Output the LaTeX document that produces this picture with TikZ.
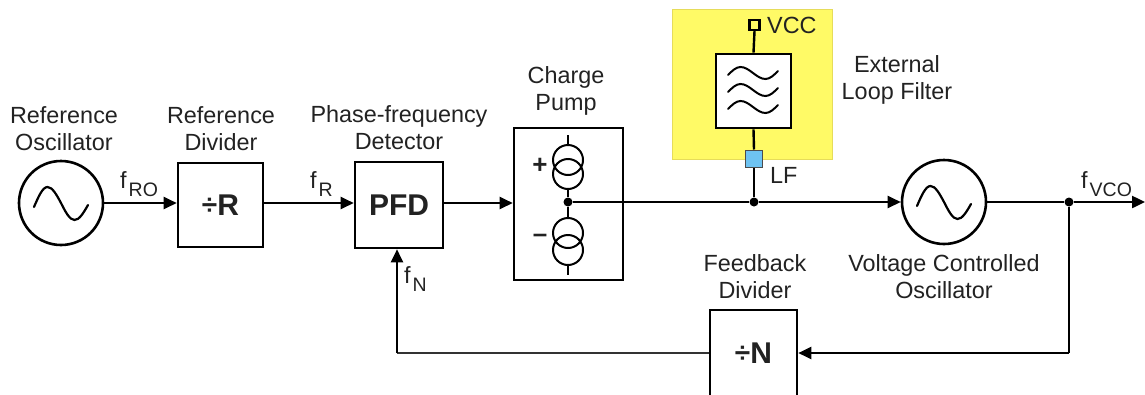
\documentclass[tikz,border=0pt]{standalone}
\usepackage{fontspec}
\setmainfont{Liberation Sans}
\usetikzlibrary{arrows.meta}
\definecolor{txt}{HTML}{222222}
\definecolor{lfyellow}{HTML}{FFFA66}
\definecolor{lfyellowb}{HTML}{E6DC5A}
\definecolor{lfblue}{HTML}{6EC3F2}
\tikzset{
  wire/.style={line width=2.4pt,draw=black},
  thinwire/.style={line width=1.4pt,draw=black!80},
  arr/.style={-{Triangle[length=13pt,width=12pt]}},
  blk/.style={draw=black,line width=2.6pt,fill=white,minimum width=85pt,minimum height=84pt,inner sep=0pt},
  osc/.style={draw=black,line width=2.6pt,fill=white,circle,minimum size=84pt,inner sep=0pt},
  lbl/.style={text=txt,font=\fontsize{23.4}{27}\selectfont,align=center,inner sep=0pt},
  big/.style={font=\fontsize{30}{30}\selectfont\bfseries,text=txt},
  dot/.style={circle,fill=black,minimum size=9pt,inner sep=0pt},
  wave/.style={line width=2.2pt,line cap=round},
}
\newcommand{\fsub}[1]{f\kern2pt\raisebox{-8pt}{\fontsize{19.5}{19.5}\selectfont #1}}
\begin{document}
\begin{tikzpicture}[x=1pt,y=-1pt]
\useasboundingbox (0,0) rectangle (1145,394);
\clip (0,0) rectangle (1145,394);
% yellow area
\fill[lfyellow,draw=lfyellowb,line width=1pt] (672,9) rectangle (832,159);
% nodes
\node[osc] (ro) at (61,203) {};
\draw[wave] (61,203) ++(-27,4) sin ++(13.5,-20) cos ++(13.5,16) sin ++(13.5,17) cos ++(13.5,-15);
\node[blk] (rdiv) at (220.5,205) {};
\node[big] at (rdiv) {\raisebox{1pt}{\fontsize{28}{28}\selectfont÷}R};
\node[blk,minimum width=88pt,minimum height=86pt] (pfd) at (399,205) {};
\node[big] at (pfd) {PFD};
\node[draw=black,line width=2.6pt,fill=white,minimum width=109pt,minimum height=152pt,inner sep=0pt] (cp) at (568.5,204) {};
\node[osc,minimum size=84pt] (vco) at (944,202) {};
\draw[wave] (944,202) ++(-27,4) sin ++(13.5,-20) cos ++(13.5,16) sin ++(13.5,17) cos ++(13.5,-15);
\node[blk,minimum width=87pt,minimum height=110pt] (ndiv) at (753.5,365) {};
\node[big] at (753.5,353) {\raisebox{1pt}{\fontsize{28}{28}\selectfont÷}N};
% filter
\node[draw=black,line width=2.6pt,fill=white,minimum width=75pt,minimum height=74pt,inner sep=0pt] (flt) at (753.5,91) {};
\foreach \yy in {73,90,107}{
  \draw[line width=2pt,line cap=round] (728,\yy+2) sin ++(12.5,-8) cos ++(12.5,6) sin ++(12.5,6) cos ++(12.5,-8);
}
\node[draw=black,line width=2.4pt,fill=lfyellow,minimum size=10pt,inner sep=0pt] (vcc) at (754.5,25) {};
\node[draw=black!70,line width=1pt,fill=lfblue,minimum size=17pt,inner sep=0pt] (lf) at (754,158.5) {};
% charge pump internals
\coordinate (cptop) at (568,135);
\coordinate (cpbot) at (568,275);
\node[dot] (cpdot) at (568,202) {};
\draw[line width=1.6pt] (cptop) -- (568,145);
\draw[line width=1.6pt] (568,188) -- (cpdot) -- (568,218);
\draw[line width=1.6pt] (568,265) -- (cpbot);
\draw[line width=2pt] (568,160) circle (15) (568,174) circle (15);
\draw[line width=2pt] (568,233) circle (15) (568,250) circle (15);
\node[big,font=\fontsize{26}{26}\selectfont\bfseries] at (540,166) {+};
\node[big,font=\fontsize{26}{26}\selectfont\bfseries] at (540,238) {\textendash};
% junctions
\node[dot] (lfdot) at (754,202) {};
\node[dot] (vdot) at (1069,202) {};
\coordinate (out) at (1145,202);
\coordinate (fbr) at (1069,353);
\coordinate (fbl) at (397,353);
% wires
\draw[wire,arr] (ro) -- (rdiv.west |- ro);
\draw[wire,arr] (rdiv.east |- ro) -- (pfd.west |- ro);
\draw[wire,arr] (pfd.east |- ro) -- (cp.west |- ro);
\draw[wire] (cpdot) -- (lfdot);
\draw[wire,arr] (lfdot) -- (vco.west);
\draw[wire] (lfdot) -- (lf.south);
\draw[wire] (lf.north) -- (flt.south);
\draw[wire] (flt.north) -- (vcc.south);
\draw[wire] (vco.east) -- (vdot);
\draw[wire,arr] (vdot) -- (out);
\draw[wire] (vdot) -- (fbr);
\draw[wire,arr] (fbr) -- (ndiv.east |- fbr);
\draw[thinwire] (ndiv.west |- fbl) -- (fbl);
\draw[wire,arr] (fbl) -- (pfd.south -| fbl);
% labels
\node[lbl] at (64,128.5) {Reference\\Oscillator};
\node[lbl] at (221,128.5) {Reference\\Divider};
\node[lbl] at (399,127.5) {Phase-frequency\\Detector};
\node[lbl] at (566,91) {Charge\\Pump};
\node[lbl] at (897,80) {External\\Loop Filter};
\node[lbl] at (944,276.5) {Voltage Controlled\\Oscillator};
\node[lbl] at (755,276.5) {Feedback\\Divider};
\node[lbl,anchor=west] at (767,25) {VCC};
\node[lbl,anchor=west] at (770,175) {LF};
\node[lbl,anchor=base west] at (120,188) {\fsub{RO}};
\node[lbl,anchor=base west] at (310,188) {\fsub{R}};
\node[lbl,anchor=base west] at (404,283) {\fsub{N}};
\node[lbl,anchor=base west] at (1081,188) {\fsub{VCO}};
\end{tikzpicture}
\end{document}
